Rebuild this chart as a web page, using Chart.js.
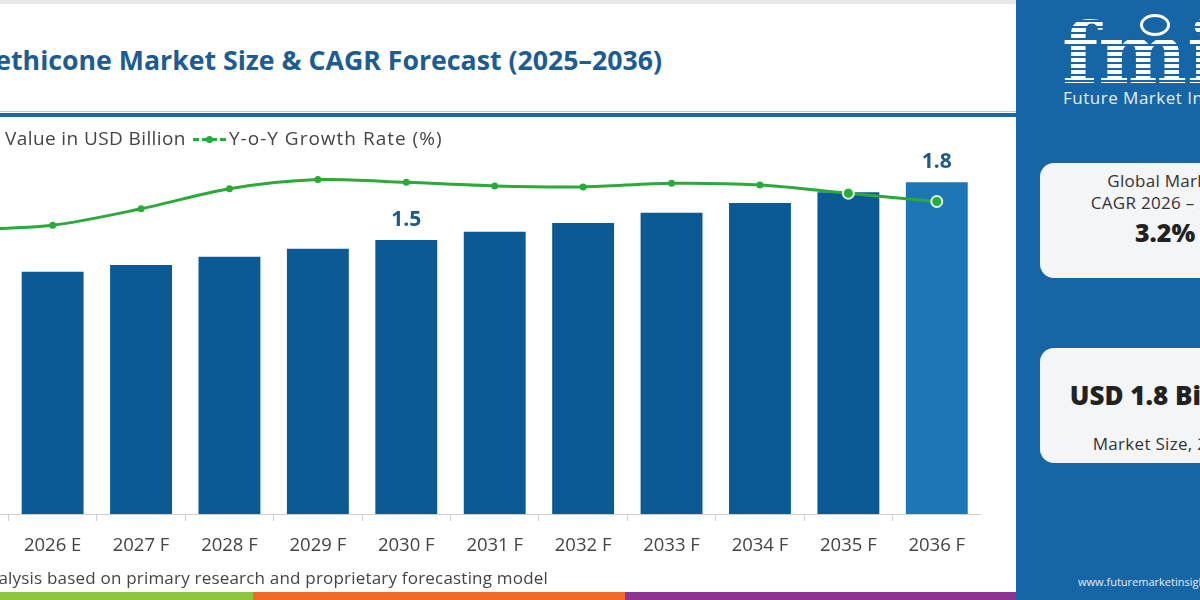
<!DOCTYPE html>
<html>
<head>
<meta charset="utf-8">
<script src="https://cdn.jsdelivr.net/npm/chart.js@4.4.1/dist/chart.umd.min.js"></script>
<style>
html, body { margin: 0; padding: 0; }
body { width: 1200px; height: 600px; position: relative; overflow: hidden; background: #fff; font-family: "Open Sans", sans-serif; }
.abs { position: absolute; white-space: nowrap; }
#topband { left: 0; top: 0; width: 1200px; height: 4px; background: #e8e8e8; }
#title { right: 538px; top: 44px; font-size: 26.7px; line-height: 32px; font-weight: 700; color: #1d5c93; }
#rule1 { left: 0; top: 111px; width: 1016px; height: 1px; background: #a9c9e4; }
#rule2 { left: 0; top: 113px; width: 1016px; height: 4px; background: #1a6aab; }
#chartBox { left: -80px; top: 106px; width: 1061px; height: 464px; }
#source { right: 652px; top: 567px; font-size: 17px; line-height: 22px; color: #444; letter-spacing: 0.2px; }
.stripe { top: 592px; height: 8px; }
#panel { left: 1016px; top: 0; width: 184px; height: 600px; background: #1565a7; overflow: hidden; }
#logo { left: 46px; top: 4px; font-family: "DejaVu Serif", serif; font-weight: 700; font-size: 84px; line-height: 100px;
  background: repeating-linear-gradient(to bottom, #ffffff 0 4px, #1565a7 4px 6px);
  -webkit-background-clip: text; background-clip: text; color: transparent; }
#globe { left: 124px; top: 14px; width: 24px; height: 16px; border: 3px solid #fff; border-radius: 50%; background: #1565a7; }
#brand { left: 47px; top: 86px; font-size: 17px; letter-spacing: 0.5px; color: #e6f0fa; }
.card { left: 24px; width: 250px; height: 115px; background: #f3f5f7; border-radius: 14px; text-align: center; color: #333; }
.card div { white-space: nowrap; }
#www { left: 62px; top: 574px; font-size: 11px; color: #e6f0fa; }
</style>
</head>
<body>
<div id="topband" class="abs"></div>
<div id="title" class="abs">Simethicone Market Size &amp; CAGR Forecast (2025–2036)</div>
<div id="rule1" class="abs"></div>
<div id="rule2" class="abs"></div>
<div id="chartBox" class="abs"><canvas id="marketChart"></canvas></div>
<div id="source" class="abs">Source: Analysis based on primary research and proprietary forecasting model</div>
<div class="abs stripe" style="left:0;width:253px;background:#8cc63f"></div>
<div class="abs stripe" style="left:253px;width:372px;background:#f06a2a"></div>
<div class="abs stripe" style="left:625px;width:391px;background:#8e3394"></div>

<div id="panel" class="abs">
  <div id="logo" class="abs">fmi</div>
  <div id="globe" class="abs"></div>
  <div id="brand" class="abs">Future Market Insights</div>
  <div class="abs card" style="top:163px">
    <div style="margin-top:7px;font-size:17px;line-height:22px;letter-spacing:0.3px">Global Market</div>
    <div style="font-size:17px;line-height:22px;letter-spacing:0.3px">CAGR 2026 – 2036</div>
    <div style="font-size:25px;line-height:36px;font-weight:800;color:#222">3.2%</div>
  </div>
  <div class="abs card" style="top:348px">
    <div style="margin-top:29px;font-size:26px;line-height:36px;font-weight:800;color:#222">USD 1.8 Billion</div>
    <div style="margin-top:20px;font-size:17px;line-height:22px;letter-spacing:0.3px">Market Size, 2036</div>
  </div>
  <div id="www" class="abs">www.futuremarketinsights.com</div>
</div>

<script>
// categories and series
const years = ['2025', '2026 E', '2027 F', '2028 F', '2029 F', '2030 F', '2031 F', '2032 F', '2033 F', '2034 F', '2035 F', '2036 F'];
const marketValue = [1.29, 1.325, 1.363, 1.407, 1.451, 1.5, 1.544, 1.592, 1.648, 1.702, 1.76, 1.815];
const growthRate = [3.11, 3.16, 3.34, 3.56, 3.66, 3.63, 3.59, 3.58, 3.62, 3.6, 3.51, 3.42];
const labelledBars = [0, 5, 11];
const legendText = ['Value in USD Billion', 'Y-o-Y Growth Rate (%)'];

const barBlue = '#0b5a94';
const barBlueLast = '#1d76b6';
const lineGreen = '#2aaa38';

Chart.defaults.font.family = '"Open Sans", sans-serif';

// value labels above selected bars
const valueLabels = {
    id: 'valueLabels',
    afterDatasetsDraw(chart) {
        const meta = chart.getDatasetMeta(0);
        const ctx = chart.ctx;
        ctx.save();
        ctx.font = 'bold 21px "Open Sans"';
        ctx.fillStyle = '#1b5a8e';
        ctx.textAlign = 'center';
        ctx.textBaseline = 'alphabetic';
        labelledBars.forEach(i => {
            const bar = meta.data[i];
            ctx.fillText(marketValue[i].toFixed(1), bar.x, bar.y - 14);
        });
        ctx.restore();
    }
};

// legend row drawn just above the plot
const legendRow = {
    id: 'legendRow',
    afterDraw(chart) {
        const ctx = chart.ctx;
        const y = chart.chartArea.top - 9;
        ctx.save();
        ctx.font = '19px "Open Sans"';
        ctx.letterSpacing = '0.4px';
        ctx.textBaseline = 'middle';
        ctx.textAlign = 'left';
        // bar item
        ctx.fillStyle = barBlue;
        ctx.fillRect(62, y - 7, 14, 14);
        ctx.fillStyle = '#444';
        ctx.fillText(legendText[0], 85, y);
        // line item
        ctx.strokeStyle = lineGreen;
        ctx.lineWidth = 3;
        ctx.setLineDash([6, 3]);
        ctx.beginPath();
        ctx.moveTo(273, y);
        ctx.lineTo(306, y);
        ctx.stroke();
        ctx.setLineDash([]);
        ctx.fillStyle = lineGreen;
        ctx.beginPath();
        ctx.arc(289.5, y, 3.5, 0, Math.PI * 2);
        ctx.fill();
        ctx.fillStyle = '#444';
        ctx.letterSpacing = '1px';
        ctx.fillText(legendText[1], 309, y);
        ctx.restore();
    }
};

const lastIdx = years.length - 1;
const ctx = document.getElementById('marketChart').getContext('2d');
new Chart(ctx, {
    type: 'bar',
    data: {
        labels: years,
        datasets: [{
            label: legendText[0],
            data: marketValue,
            backgroundColor: years.map((_, i) => i === lastIdx ? barBlueLast : barBlue),
            yAxisID: 'y',
            categoryPercentage: 1,
            barPercentage: 0.7,
            order: 2
        }, {
            type: 'line',
            label: legendText[1],
            data: growthRate,
            yAxisID: 'y2',
            borderColor: lineGreen,
            borderWidth: 3,
            tension: 0.3,
            pointRadius: years.map((_, i) => i >= lastIdx - 1 ? 5.5 : 3.5),
            pointBackgroundColor: lineGreen,
            pointBorderColor: years.map((_, i) => i >= lastIdx - 1 ? 'rgba(235,250,235,0.95)' : lineGreen),
            pointBorderWidth: years.map((_, i) => i >= lastIdx - 1 ? 2 : 0),
            order: 1
        }]
    },
    options: {
        responsive: true,
        maintainAspectRatio: false,
        animation: false,
        layout: { autoPadding: false, padding: { top: 42.5, left: 0, right: 0, bottom: 0 } },
        plugins: {
            legend: { display: false },
            tooltip: { enabled: false }
        },
        scales: {
            x: {
                offset: true,
                grid: { display: true, drawOnChartArea: false, drawTicks: true, tickLength: 7, color: '#cfcfcf' },
                border: { display: true, color: '#cfcfcf' },
                ticks: { color: '#444', font: { size: 18.5 }, padding: 13.4, maxRotation: 0, autoSkip: false }
            },
            y: { display: false, min: 0, max: 2.0 },
            y2: { display: false, min: 0, max: 4 }
        }
    },
    plugins: [valueLabels, legendRow]
});
</script>
</body>
</html>
